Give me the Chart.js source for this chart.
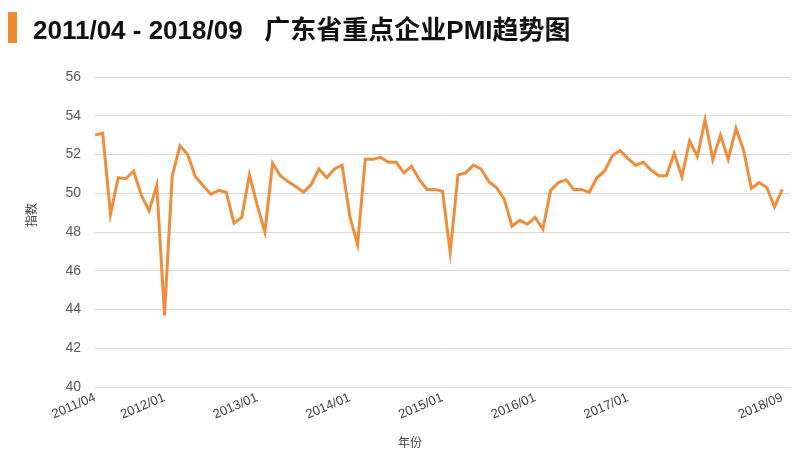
<!DOCTYPE html>
<html>
<head>
<meta charset="utf-8">
<script src="https://cdn.jsdelivr.net/npm/chart.js@4/dist/chart.umd.min.js"></script>
<style>
  html, body { margin: 0; padding: 0; background: #ffffff; }
  #wrap { width: 800px; height: 460px; position: relative; }
</style>
</head>
<body>
<div id="wrap"><canvas id="c" width="800" height="460"></canvas></div>
<script>
// ---- Data ----
const chartTitle = '2011/04 - 2018/09   广东省重点企业PMI趋势图';
const yAxisTitle = '指数';
const xAxisTitle = '年份';

// monthly categories 2011/04 ... 2018/09 (90 months)
const startYear = 2011, startMonth = 4, monthCount = 90;
const months = [];
for (let k = 0; k < monthCount; k++) {
  const m = startMonth - 1 + k;
  const y = startYear + Math.floor(m / 12);
  const mm = (m % 12) + 1;
  months.push(y + '/' + (mm < 10 ? '0' + mm : mm));
}

const tickLabels = ['2011/04', '2012/01', '2013/01', '2014/01', '2015/01', '2016/01', '2017/01', '2018/09'];

const pmiValues = [
  53.0, 53.1, 48.9, 50.8, 50.75, 51.15, 49.9, 49.1, 50.4,            // 2011/04-12
  43.7, 50.9, 52.45, 52.0, 50.85, 50.4, 49.95, 50.15, 50.05, 48.45, 48.75, 50.95, // 2012
  49.4, 48.0, 51.55, 50.9, 50.6, 50.35, 50.05, 50.45, 51.25, 50.8, 51.25, 51.45,  // 2013
  48.8, 47.35, 51.75, 51.75, 51.85, 51.6, 51.6, 51.05, 51.4, 50.7, 50.2, 50.2,    // 2014
  50.1, 46.95, 50.95, 51.05, 51.45, 51.25, 50.6, 50.3, 49.7, 48.3, 48.6, 48.4,    // 2015
  48.75, 48.15, 50.15, 50.55, 50.7, 50.2, 50.2, 50.05, 50.8, 51.15, 51.95, 52.2,  // 2016
  51.8, 51.45, 51.6, 51.2, 50.9, 50.9, 52.05, 50.85, 52.7, 51.9, 53.8, 51.75,     // 2017
  53.0, 51.75, 53.35, 52.2, 50.25, 50.55, 50.3, 49.3, 50.2                       // 2018/01-09
];

// extra empty slot so the grid runs a little past the last month
const categories = months.concat(['']);

const yMin = 40, yMax = 56, yStep = 2;

// ---- Title + axis titles plugin ----
const titlePlugin = {
  id: 'titleBar',
  beforeDraw(chart) {
    const ctx = chart.ctx;
    ctx.save();
    ctx.fillStyle = '#ffffff';
    ctx.fillRect(0, 0, chart.width, chart.height);
    ctx.fillStyle = '#F08A32';
    ctx.fillRect(8, 12, 9, 31);
    ctx.fillStyle = '#111111';
    ctx.font = 'bold 26px "Liberation Sans", Arial, "Noto Sans CJK SC", sans-serif';
    ctx.textBaseline = 'alphabetic';
    ctx.textAlign = 'left';
    ctx.fillText(chartTitle, 33, 39);
    ctx.restore();
  },
  afterDraw(chart) {
    const ctx = chart.ctx;
    ctx.save();
    ctx.fillStyle = '#404040';
    ctx.font = '12px "Noto Sans CJK SC", sans-serif';
    ctx.textAlign = 'center';
    ctx.textBaseline = 'middle';
    ctx.fillText(xAxisTitle, 410, 442);
    ctx.translate(31, 215);
    ctx.rotate(-Math.PI / 2);
    ctx.fillText(yAxisTitle, 0, 0);
    ctx.restore();
  }
};

new Chart(document.getElementById('c'), {
  type: 'line',
  data: {
    labels: categories,
    datasets: [{
      data: pmiValues,
      borderColor: '#EE8D3C',
      backgroundColor: '#EE8D3C',
      borderWidth: 3,
      pointRadius: 0,
      tension: 0,
      fill: false
    }]
  },
  options: {
    responsive: false,
    animation: false,
    devicePixelRatio: 1,
    layout: { padding: { top: 77, left: 16, right: 10, bottom: 6 } },
    plugins: {
      legend: { display: false },
      tooltip: { enabled: false },
      title: { display: false }
    },
    scales: {
      x: {
        type: 'category',
        offset: false,
        grid: { display: false, drawTicks: false },
        border: { display: false },
        ticks: {
          autoSkip: false,
          minRotation: 23,
          maxRotation: 23,
          padding: 3,
          color: '#404040',
          font: { family: '"Liberation Sans", Arial, sans-serif', size: 13 },
          callback: function (value) {
            const lab = this.getLabelForValue(value);
            return tickLabels.includes(lab) ? lab : '';
          }
        },
        title: { display: false },
        afterFit(scale) { scale.height = 67; }
      },
      y: {
        min: yMin,
        max: yMax,
        grid: { color: '#D9D9D9', lineWidth: 1, drawTicks: false },
        border: { display: false },
        ticks: {
          stepSize: yStep,
          padding: 14,
          color: '#595959',
          font: { family: '"Liberation Sans", Arial, sans-serif', size: 14 }
        },
        title: { display: false },
        afterFit(scale) { scale.width = 79; }
      }
    }
  },
  plugins: [titlePlugin]
});
</script>
</body>
</html>
